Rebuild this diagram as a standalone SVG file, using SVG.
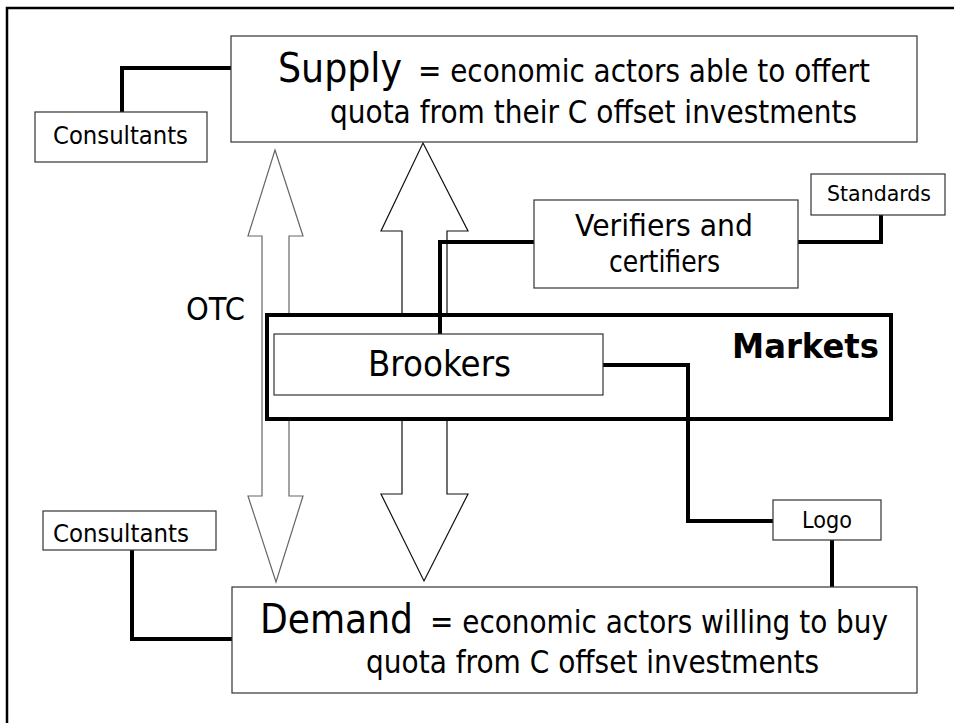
<svg xmlns="http://www.w3.org/2000/svg" width="954" height="723" viewBox="0 0 954 723">
<style>
text{font-family:"DejaVu Sans","Liberation Sans",sans-serif;fill:#000}
.box{fill:#fff;stroke:#333;stroke-width:1.2}
.conn{fill:none;stroke:#000;stroke-width:4;stroke-linejoin:miter}
.arrow{fill:#fff;stroke-width:1.2}
</style>
<rect x="7" y="8" width="960" height="730" fill="#fff" stroke="#000" stroke-width="2.5"/>
<g id="arrows">
<polygon class="arrow" stroke="#666" points="275,150 303,236 289,236 289,496 303,496 276,582 248,496 262,496 262,236 248,236"/>
<polygon class="arrow" stroke="#111" points="423,143 468,231 447,231 447,494 468,494 424,581 381,494 402,494 402,231 381,231"/>
</g>
<g id="markets">
<rect x="267" y="315" width="624" height="104" fill="#fff" stroke="#000" stroke-width="4"/>
<text x="732" y="358" font-size="34" font-weight="bold" textLength="147" lengthAdjust="spacingAndGlyphs">Markets</text>
</g>
<g id="connectors">
<polyline class="conn" points="122,112 122,68 231,68"/>
<polyline class="conn" points="534,242 440,242 440,334"/>
<polyline class="conn" points="881,215 881,242 797,242"/>
<polyline class="conn" points="603,365 688,365 688,521 773,521"/>
<polyline class="conn" points="832,540 832,587"/>
<polyline class="conn" points="132,550 132,639 232,639"/>
</g>
<g id="supply">
<rect class="box" x="231" y="36" width="686" height="106"/>
<text x="278" y="82" font-size="40" textLength="124" lengthAdjust="spacingAndGlyphs">Supply</text>
<text x="418" y="82" font-size="32" textLength="452" lengthAdjust="spacingAndGlyphs">= economic actors able to offert</text>
<text x="330" y="123" font-size="32" textLength="527" lengthAdjust="spacingAndGlyphs">quota from their C offset investments</text>
</g>
<g id="consultants-top">
<rect class="box" x="35" y="112" width="172" height="50"/>
<text x="53" y="144" font-size="25" textLength="135" lengthAdjust="spacingAndGlyphs">Consultants</text>
</g>
<g id="verifiers">
<rect class="box" x="534" y="200" width="264" height="88"/>
<text x="575" y="236" font-size="30" textLength="178" lengthAdjust="spacingAndGlyphs">Verifiers and</text>
<text x="609" y="272" font-size="30" textLength="111" lengthAdjust="spacingAndGlyphs">certifiers</text>
</g>
<g id="standards">
<rect class="box" x="811" y="174" width="134" height="41"/>
<text x="827" y="201" font-size="22" textLength="104" lengthAdjust="spacingAndGlyphs">Standards</text>
</g>
<g id="otc">
<text x="186" y="320" font-size="32" textLength="59" lengthAdjust="spacingAndGlyphs">OTC</text>
</g>
<g id="brookers">
<rect class="box" x="274" y="334" width="329" height="61"/>
<text x="368" y="376" font-size="36" textLength="143" lengthAdjust="spacingAndGlyphs">Brookers</text>
</g>
<g id="logo">
<rect class="box" x="773" y="500" width="108" height="40"/>
<text x="802" y="528" font-size="23" textLength="50" lengthAdjust="spacingAndGlyphs">Logo</text>
</g>
<g id="consultants-bottom">
<rect class="box" x="43" y="511" width="173" height="39"/>
<text x="53" y="542" font-size="25" textLength="136" lengthAdjust="spacingAndGlyphs">Consultants</text>
</g>
<g id="demand">
<rect class="box" x="232" y="587" width="685" height="106"/>
<text x="260" y="633" font-size="40" textLength="153" lengthAdjust="spacingAndGlyphs">Demand</text>
<text x="430" y="633" font-size="32" textLength="458" lengthAdjust="spacingAndGlyphs">= economic actors willing to buy</text>
<text x="366" y="673" font-size="32" textLength="453" lengthAdjust="spacingAndGlyphs">quota from C offset investments</text>
</g>
</svg>
